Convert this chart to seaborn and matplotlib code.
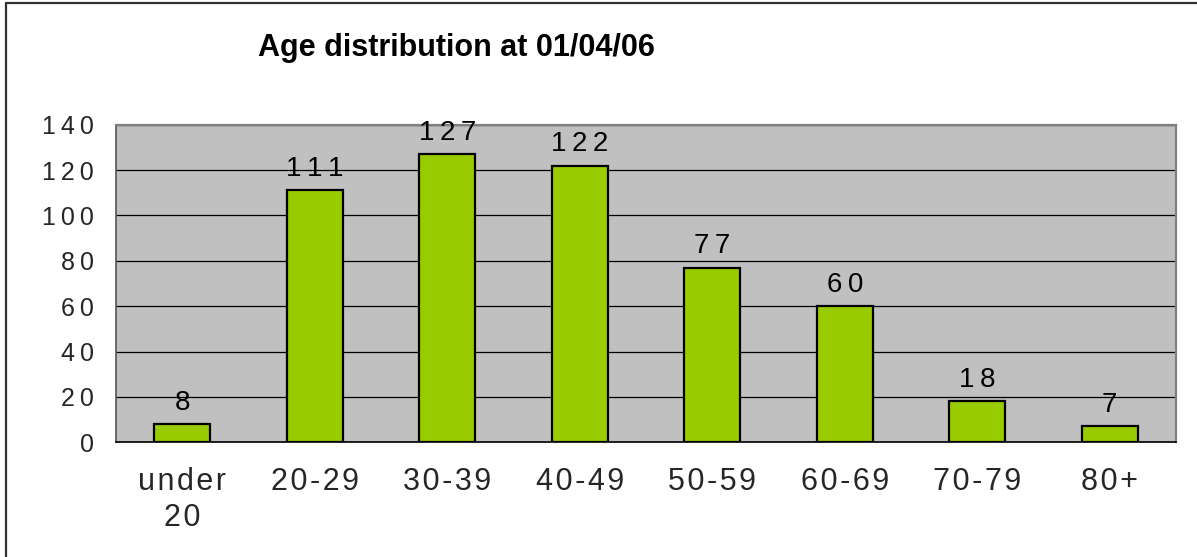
import numpy as np
import matplotlib
matplotlib.use('Agg')
import matplotlib.pyplot as plt
from matplotlib.lines import Line2D
import seaborn as sns

# ── Data ───────────────────────────────────────────────────────────
age_groups = ['under\n20', '20-29', '30-39', '40-49', '50-59', '60-69', '70-79', '80+']
counts     = [8, 111, 127, 122, 77, 60, 18, 7]
y_ticks    = [0, 20, 40, 60, 80, 100, 120, 140]
title      = 'Age distribution at 01/04/06'

GREEN = '#99CC00'
PLOT_BG = '#C0C0C0'

sns.set_style('white')
plt.rcParams['font.family'] = ['Liberation Sans', 'DejaVu Sans']


def spaced(s, sep='\u2009'):
    # Excel-ish letter spacing, line by line
    return '\n'.join(sep.join(line) for line in s.split('\n'))


fig = plt.figure(figsize=(11.97, 5.57), dpi=100)
ax = fig.add_axes([116 / 1197, 1 - 442.3 / 557, 1060 / 1197, 317.6 / 557])
ax.set_facecolor(PLOT_BG)

sns.barplot(x=list(range(len(counts))), y=counts, color=GREEN, saturation=1,
            edgecolor='black', linewidth=1.6, width=0.42, ax=ax, zorder=3)

# value labels above bars
for i, v in enumerate(counts):
    ax.annotate(spaced(str(v)), (i, v), xytext=(0, 10.5), textcoords='offset points',
                ha='center', va='baseline', fontsize=20, color='black')

ax.set_xlim(-0.5, len(counts) - 0.5)
ax.set_ylim(0, 140)
ax.set_yticks(y_ticks)
ax.set_yticklabels([spaced(str(t)) for t in y_ticks], fontsize=18)
ax.set_xticks(range(len(age_groups)))
ax.set_xticklabels([spaced(g, '\u200a') for g in age_groups], fontsize=22, linespacing=1.25)
ax.set_xticks(np.arange(-0.5, len(age_groups), 1), minor=True)
ax.tick_params(axis='x', which='major', length=0, pad=18)
ax.tick_params(axis='x', which='minor', length=8, width=1, direction='out', color='black')
ax.tick_params(axis='y', length=8, width=1, direction='out', color='black', pad=8)
ax.set_xlabel('')
ax.set_ylabel('')

ax.yaxis.grid(True, color='black', linewidth=0.9, zorder=1)
ax.set_axisbelow(True)
for side in ['top', 'right']:
    ax.spines[side].set_color('#808080')
    ax.spines[side].set_linewidth(1.6)
ax.spines['left'].set_color('#555555')
ax.spines['left'].set_linewidth(1.2)
ax.spines['bottom'].set_color('black')
ax.spines['bottom'].set_linewidth(1.2)

fig.text(456 / 1197, 1 - 56 / 557, title, ha='center', va='baseline',
         fontsize=22, fontweight='bold', color='black')

# chart area border (left and top edges only visible)
fig.add_artist(Line2D([6 / 1197, 6 / 1197], [0, 1 - 2.5 / 557], color='#333333', lw=1.6))
fig.add_artist(Line2D([6 / 1197, 1], [1 - 2.5 / 557, 1 - 2.5 / 557], color='#333333', lw=1.6))

fig.savefig('out.png', dpi=100, facecolor='white')
plt.close(fig)
